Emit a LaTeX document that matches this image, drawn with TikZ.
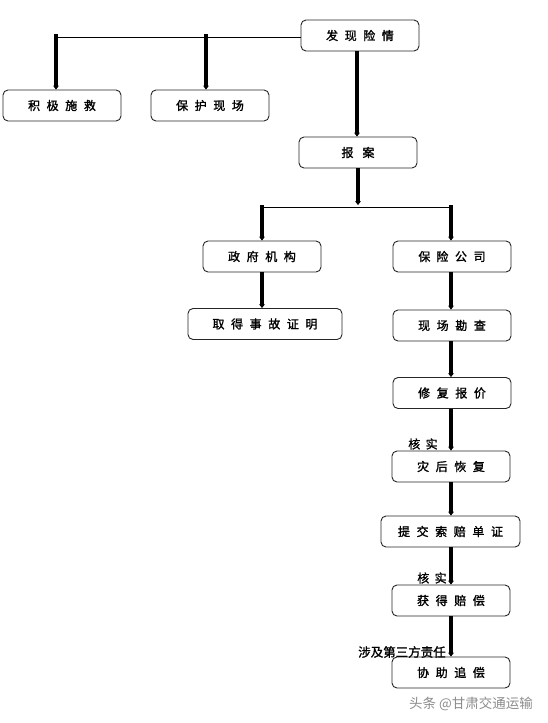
\documentclass[tikz,border=0pt]{standalone}
\usepackage{fontspec}
\usetikzlibrary{arrows.meta}
\newfontfamily\cjk[FakeBold=1.2]{Noto Sans CJK SC}
\newfontfamily\cjksp[LetterSpace=55,FakeBold=1.5]{Noto Sans CJK SC}
\newfontfamily\cjkl[LetterSpace=45,FakeBold=1.2]{Noto Sans CJK SC}
\newfontfamily\cjkw{Noto Sans CJK SC}
\begin{document}
\begin{tikzpicture}[x=1pt,y=-1pt,
  box/.style={draw=black!85,line width=0.9pt,rounded corners=5pt,minimum width=118pt,minimum height=31pt,inner sep=0pt,font=\cjksp\fontsize{12}{14}\selectfont},
  thk/.style={line width=3.3pt,-{Stealth[length=4pt,width=6pt]}},
  thn/.style={line width=1pt},
  lbl/.style={inner sep=0pt,font=\cjkl\fontsize{12}{14}\selectfont}]
\useasboundingbox[fill=white] (0,0) rectangle (547,723);
% boxes
\node[box] (faxian) at (360,35.5) {发现险情};
\node[box] (jiji) at (62,105.5) {积极施救};
\node[box] (baohu) at (210,105.5) {保护现场};
\node[box] (baoan) at (358,152.5) {报\hspace{9pt}案};
\node[box] (zhengfu) at (262,256.5) {政府机构};
\node[box] (baoxian) at (452,256.5) {保\hspace{6pt}险公司};
\node[box,minimum width=154pt] (qude) at (265,324) {取得事故证明};
\node[box] (xianchang) at (452,325.5) {现场勘查};
\node[box] (xiufu) at (452,393) {修复报价};
\node[box] (zaihou) at (451,466.5) {灾后恢复};
\node[box,minimum width=139pt] (tijiao) at (450.5,531.5) {提交索赔单证};
\node[box] (huode) at (451,600.5) {获得赔偿};
\node[box] (xiezhu) at (451,672.5) {协助追偿};
% coordinates
\coordinate (hL) at (56,37);
\coordinate (tA) at (56,34);
\coordinate (tB) at (206,34);
\coordinate (vA) at (357,0);
\coordinate (vB) at (358,205);
\coordinate (hM) at (262,207);
\coordinate (hN) at (451,207);
\coordinate (tC) at (262,205);
\coordinate (tD) at (451,205);
\coordinate (xc) at (451,0);
% connectors
\draw[thn] (faxian.west |- hL) -- (hL);
\draw[thk] (tA) -- (tA |- jiji.north);
\draw[thk] (tB) -- (tB |- baohu.north);
\draw[thk] (vA |- faxian.south) -- (vA |- baoan.north);
\draw[thk] (vB |- baoan.south) -- (vB);
\draw[thn] (hM) -- (hN);
\draw[thk] (tC) -- (tC |- zhengfu.north);
\draw[thk] (tD) -- (tD |- baoxian.north);
\draw[thk] (tC |- zhengfu.south) -- (tC |- qude.north);
\draw[thk] (xc |- baoxian.south) -- (xc |- xianchang.north);
\draw[thk] (xc |- xianchang.south) -- (xc |- xiufu.north);
\draw[thk] (xc |- xiufu.south) -- (xc |- zaihou.north);
\draw[thk] (xc |- zaihou.south) -- (xc |- tijiao.north);
\draw[thk] (xc |- tijiao.south) -- (xc |- huode.north);
\draw[thk] (xc |- huode.south) -- (xc |- xiezhu.north);
% labels
\node[lbl] (l1) at (423,444) {核实};
\node[lbl] (l2) at (432,578) {核实};
\node[inner sep=0pt,font=\cjk\fontsize{12.5}{14}\selectfont] (l3) at (402,652) {涉及第三方责任};
\node[inner sep=0pt,text=black!45,font=\cjkw\fontsize{13.5}{15}\selectfont] (wm) at (471,704) {头条 @甘肃交通运输};
\end{tikzpicture}
\end{document}
